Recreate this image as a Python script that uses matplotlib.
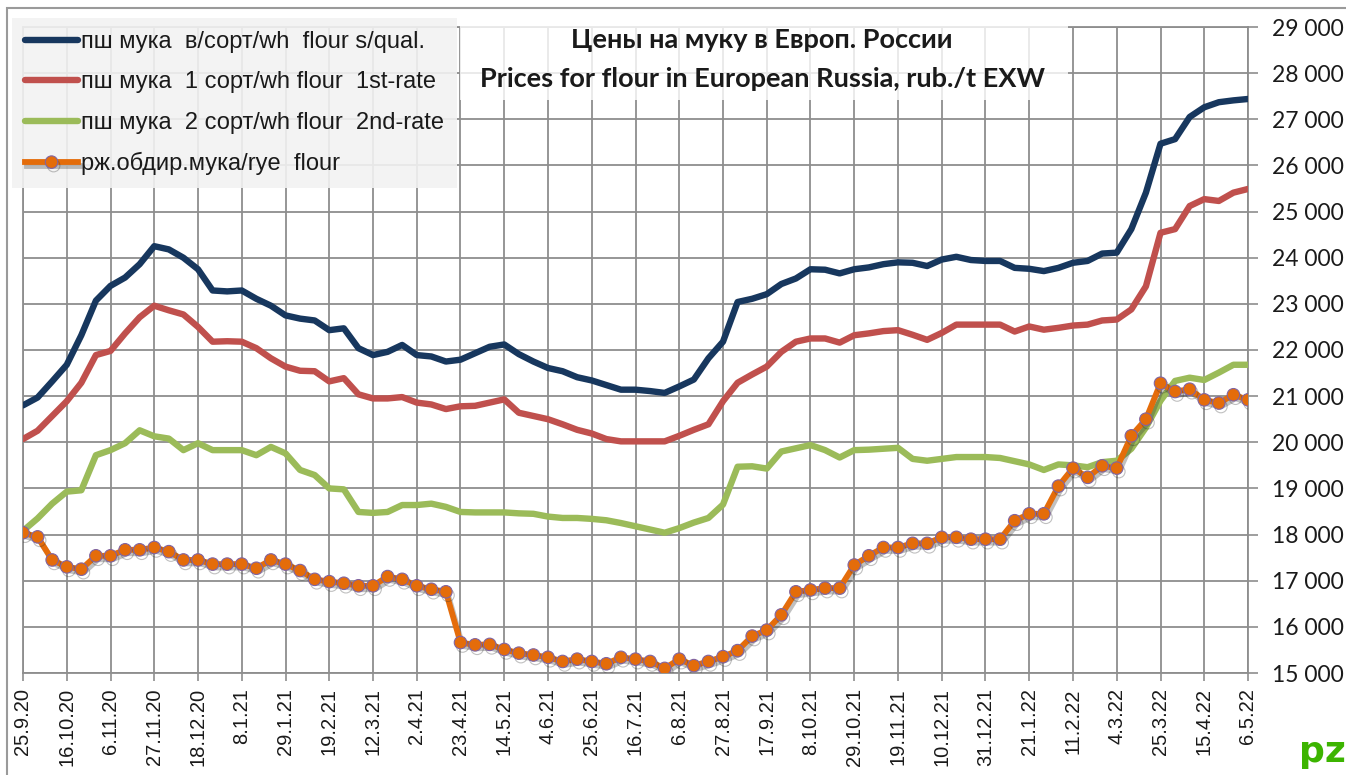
import numpy as np
import matplotlib
matplotlib.use("Agg")
from matplotlib import pyplot as plt
from matplotlib import patheffects as pe
from matplotlib.ticker import FuncFormatter, MultipleLocator
from matplotlib.patches import Rectangle

# weekly prices, rub./t, 25.9.20 ... 6.5.22 (85 weeks)
wh_top = [20800, 20970, 21320, 21680, 22320, 23070, 23390, 23570, 23860, 24250,
          24180, 24000, 23750, 23290, 23270, 23290, 23110, 22960, 22750, 22680,
          22640, 22430, 22470, 22040, 21890, 21960, 22110, 21890, 21860, 21750,
          21790, 21930, 22070, 22120, 21910, 21750, 21610, 21540, 21410, 21340,
          21240, 21140, 21140, 21110, 21070, 21210, 21360, 21820, 22180, 23040,
          23110, 23210, 23430, 23550, 23750, 23740, 23660, 23750, 23790, 23860,
          23900, 23890, 23820, 23960, 24020, 23950, 23930, 23930, 23780, 23760,
          23710, 23780, 23890, 23930, 24090, 24110, 24620, 25410, 26470, 26570,
          27050, 27260, 27370, 27410, 27440]
wh_1st = [20070, 20250, 20570, 20890, 21290, 21890, 21980, 22360, 22710, 22960,
          22860, 22770, 22500, 22180, 22190, 22180, 22040, 21820, 21640, 21550,
          21540, 21320, 21390, 21040, 20950, 20950, 20980, 20860, 20820, 20720,
          20780, 20790, 20860, 20930, 20640, 20570, 20500, 20390, 20270, 20190,
          20070, 20020, 20020, 20020, 20020, 20140, 20270, 20390, 20890, 21290,
          21470, 21640, 21960, 22180, 22250, 22250, 22160, 22320, 22360, 22410,
          22430, 22330, 22220, 22370, 22550, 22550, 22550, 22550, 22400, 22510,
          22440, 22480, 22530, 22550, 22640, 22660, 22880, 23380, 24540, 24620,
          25120, 25270, 25230, 25410, 25490]
wh_2nd = [18080, 18350, 18670, 18930, 18960, 19720, 19830, 19980, 20260, 20130,
          20080, 19830, 19980, 19830, 19830, 19830, 19720, 19900, 19760, 19400,
          19290, 19000, 18980, 18490, 18470, 18490, 18640, 18640, 18670, 18600,
          18490, 18480, 18480, 18480, 18460, 18450, 18390, 18360, 18360, 18340,
          18310, 18250, 18180, 18110, 18040, 18140, 18260, 18360, 18650, 19470,
          19480, 19430, 19800, 19870, 19940, 19830, 19670, 19830, 19840, 19860,
          19880, 19640, 19600, 19640, 19680, 19680, 19680, 19660, 19590, 19520,
          19400, 19520, 19500, 19460, 19570, 19600, 19860, 20320, 20900, 21330,
          21400, 21350, 21510, 21680, 21680]
rye = [18040, 17950, 17450, 17300, 17250, 17540, 17540, 17670, 17670, 17720,
       17630, 17450, 17450, 17360, 17360, 17360, 17270, 17450, 17360, 17220,
       17030, 16980, 16945, 16890, 16890, 17090, 17030, 16890, 16815, 16760,
       15660, 15610, 15620, 15510, 15430, 15390, 15340, 15250, 15300, 15250,
       15200, 15340, 15300, 15250, 15100, 15300, 15160, 15250, 15355, 15485,
       15800, 15930, 16260, 16760, 16800, 16840, 16840, 17340, 17540, 17720,
       17720, 17810, 17810, 17940, 17940, 17900, 17900, 17900, 18300, 18450,
       18450, 19050, 19440, 19240, 19490, 19440, 20140, 20500, 21280, 21100,
       21150, 20920, 20850, 21030, 20920]

tick_labels = ["25.9.20", "16.10.20", "6.11.20", "27.11.20", "18.12.20", "8.1.21",
               "29.1.21", "19.2.21", "12.3.21", "2.4.21", "23.4.21", "14.5.21",
               "4.6.21", "25.6.21", "16.7.21", "6.8.21", "27.8.21", "17.9.21",
               "8.10.21", "29.10.21", "19.11.21", "10.12.21", "31.12.21", "21.1.22",
               "11.2.22", "4.3.22", "25.3.22", "15.4.22", "6.5.22"]

names = ["пш мука  в/сорт/wh  flour s/qual.",
         "пш мука  1 сорт/wh flour  1st-rate",
         "пш мука  2 сорт/wh flour  2nd-rate",
         "рж.обдир.мука/rye  flour"]

W, H = 1346, 775
fig = plt.figure(figsize=(W / 100, H / 100), dpi=100)
fig.patch.set_facecolor("white")

# outer chart frame
fig.add_artist(Rectangle((7 / W, -0.1), 1.2, 1 - 8 / H + 0.1, transform=fig.transFigure,
                         fill=False, ec="#9a9a9a", lw=1.5))

ax = fig.add_axes([23 / W, 1 - 673 / H, (1248 - 23) / W, (673 - 27) / H])
x = np.arange(len(rye))

grid_c = "#8e8e8e"
kw = dict(lw=4.6, solid_capstyle="round", solid_joinstyle="round", zorder=3)
ax.plot(x, wh_top, color="#17375E", label=names[0], **kw)
ax.plot(x, wh_1st, color="#C0504D", label=names[1], **kw)
ax.plot(x, wh_2nd, color="#9BBB59", label=names[2], **kw)
ax.plot(x, rye, color="#E46C0A", lw=4.2, solid_joinstyle="round", marker="o", ms=9,
        mfc="#E46C0A", mec="#8064A2", mew=0.8, label=names[3], zorder=4,
        path_effects=[pe.SimpleLineShadow(offset=(1.5, -2.5), alpha=0.3, shadow_color="#303030"),
                      pe.Normal()])

ax.set_xlim(0, len(rye) - 1)
ax.set_ylim(15000, 29000)
ax.set_xticks(np.arange(0, len(rye), 3))
ax.set_xticklabels(tick_labels, rotation=90, fontsize=14.5, family="Liberation Sans",
                   color="#1a1a1a")
ax.yaxis.set_major_locator(MultipleLocator(1000))
ax.yaxis.set_major_formatter(FuncFormatter(lambda v, p: f"{int(v):,}".replace(",", " ")))
ax.yaxis.tick_right()
for lab in ax.get_yticklabels():
    lab.set_family("Lato")
    lab.set_fontsize(16.5)
    lab.set_color("#1a1a1a")
ax.tick_params(axis="y", direction="out", length=7, width=1.2, color=grid_c, pad=10)
ax.tick_params(axis="x", direction="out", length=6, width=1.2, color=grid_c, pad=5)
ax.grid(True, color=grid_c, lw=1.3)
ax.set_axisbelow(True)
for s in ax.spines.values():
    s.set_color(grid_c)
    s.set_linewidth(1.3)

# title with half-transparent white box
fig.add_artist(Rectangle((460 / W, 1 - 100 / H), (1068 - 460) / W, 80 / H,
                         transform=fig.transFigure, fc="white", ec="none", alpha=0.8, zorder=5))
fig.text(762 / W, 1 - 40 / H, "Цены на муку в Европ. России", ha="center", va="center",
         fontsize=19.5, fontweight="bold", family="Lato", color="#1a1a1a", zorder=6)
fig.text(763 / W, 1 - 79 / H, "Prices for flour in European Russia, rub./t EXW", ha="center",
         va="center", fontsize=19.5, fontweight="bold", family="Lato", color="#1a1a1a", zorder=6)

leg = fig.legend(loc="upper left", bbox_to_anchor=(12 / W, 1 - 18 / H), bbox_transform=fig.transFigure,
                 prop={"family": "Liberation Sans", "size": 17}, handlelength=2.25, handletextpad=0.12,
                 labelspacing=0.78, borderpad=0.55, borderaxespad=0, numpoints=1,
                 fancybox=False, frameon=True)
leg.get_frame().set_facecolor("#f2f2f2")
leg.get_frame().set_edgecolor("none")
leg.get_frame().set_alpha(0.9)
leg.set_zorder(6)
for t in leg.get_texts():
    t.set_color("#1a1a1a")

# small logo
fig.text(1322 / W, 1 - 752 / H, "pz", ha="center", va="center", fontsize=26, fontweight="bold",
         family="DejaVu Sans", color="#3cb400", zorder=6)

fig.savefig("out.png", dpi=100)
